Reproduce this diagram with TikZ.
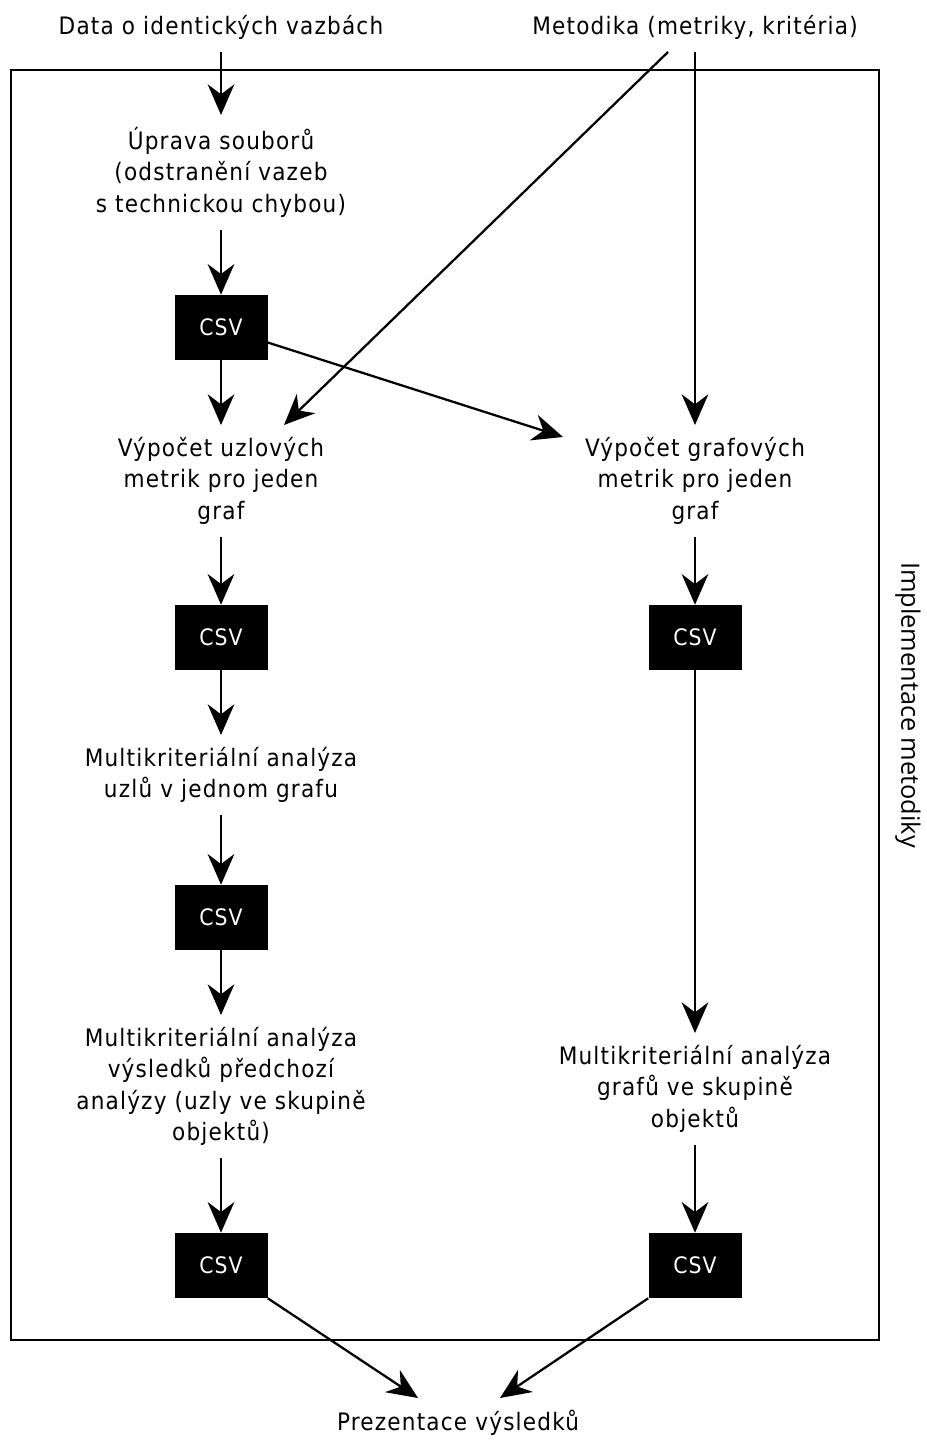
\documentclass[tikz,border=0pt]{standalone}
\usepackage{fontspec}
\setmainfont[LetterSpace=5]{DejaVu Sans Condensed}
\newfontfamily\sidefont{Open Sans}
\usetikzlibrary{arrows.meta,calc}
\begin{document}
\begin{tikzpicture}[x=0.75pt,y=-0.75pt,
  txt/.style={align=center,inner xsep=0pt,inner ysep=9pt,font=\fontsize{18}{23.6}\selectfont},
  csv/.style={fill=black,text=white,minimum width=69.75pt,minimum height=48.75pt,inner sep=0pt,font=\fontsize{17}{18}\selectfont},
  arr/.style={line width=1.7pt,-{Stealth[length=23pt,width=20pt,inset=7.5pt]}},
  frame/.style={draw,line width=1.7pt}
  ]
\useasboundingbox (0,0) rectangle (927,1441);

% outer frame of the implementation
\draw[frame] (11,70) rectangle (879,1340);
\node[rotate=-90,font=\sidefont\fontsize{19}{22}\selectfont] (impl) at (908,705) {Implementace metodiky};

% inputs
\node[txt,anchor=south] (data) at (221,52) {Data o identických vazbách};
\node[txt,anchor=south] (met) at (695,52) {Metodika (metriky, kritéria)};

% left branch
\node[txt,anchor=north] (upr) at (221,115) {Úprava souborů\\(odstranění vazeb\\s technickou chybou)};
\node[csv] (c1) at (221,327.5) {CSV};
\node[txt,anchor=north] (vu) at (221,425) {Výpočet uzlových\\metrik pro jeden\\graf};
\node[csv] (c2) at (221,637.5) {CSV};
\node[txt,anchor=north] (mu) at (221,735) {Multikriteriální analýza\\uzlů v jednom grafu};
\node[csv] (c3) at (221,917.5) {CSV};
\node[txt,anchor=north] (ms) at (221,1015) {Multikriteriální analýza\\výsledků předchozí\\analýzy (uzly ve skupině\\objektů)};
\node[csv] (c4) at (221,1265.5) {CSV};

% right branch
\node[txt,anchor=north] (vg) at (695,425) {Výpočet grafových\\metrik pro jeden\\graf};
\node[csv] (r1) at (695,637.5) {CSV};
\node[txt,anchor=north] (mg) at (695,1033) {Multikriteriální analýza\\grafů ve skupině\\objektů};
\node[csv] (r2) at (695,1265.5) {CSV};

% output
\node[txt,anchor=north] (prez) at (458,1398) {Prezentace výsledků};

% connectors
\draw[arr] (data) -- (upr);
\draw[arr] (upr) -- (c1);
\draw[arr] (c1) -- (vu);
\draw[arr] (vu) -- (c2);
\draw[arr] (c2) -- (mu);
\draw[arr] (mu) -- (c3);
\draw[arr] (c3) -- (ms);
\draw[arr] (ms) -- (c4);
\draw[arr] (met) -- (vg);
\draw[arr] ($(met.south)+(-27,0)$) -- ($(vu.north)+(63,0)$);
\draw[arr] ($(c1.east)+(0,15)$) -- ($(vg.north)+(-132,12)$);
\draw[arr] (vg) -- (r1);
\draw[arr] (r1) -- (mg);
\draw[arr] (mg) -- (r2);
\draw[arr] (c4.south east) -- ($(prez.north)+(-40,0)$);
\draw[arr] (r2.south west) -- ($(prez.north)+(42,0)$);
\end{tikzpicture}
\end{document}
